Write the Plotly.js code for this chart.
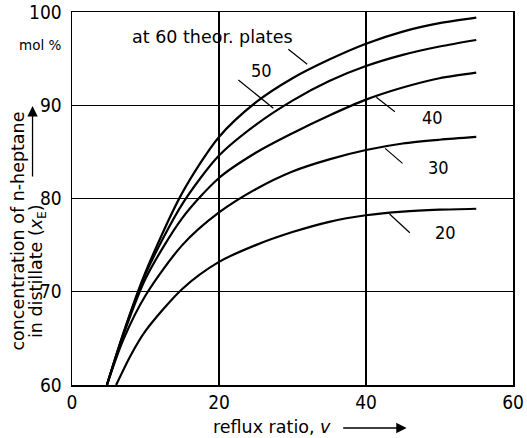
<!DOCTYPE html>
<html>
<head>
<meta charset="utf-8">
<script src="https://cdn.plot.ly/plotly-3.0.1.min.js"></script>
<style>html,body{margin:0;padding:0;background:#fff;}#chart{width:527px;height:438px;}</style>
</head>
<body>
<div id="chart"></div>
<script>
// reflux ratio (x) and n-heptane concentration in distillate (mol %) for each number of theoretical plates
const xPlates = [4.75, 7, 10, 15, 20, 25, 30, 35, 40, 45, 50, 55];
const y60 = [60, 65.6, 72.1, 80.6, 86.6, 90.3, 92.9, 94.9, 96.6, 97.9, 98.8, 99.4];
const y50 = [60, 65.5, 71.9, 79.4, 84.6, 87.9, 90.5, 92.6, 94.2, 95.4, 96.3, 97.0];
const y40 = [60, 65.4, 71.4, 77.9, 82.2, 84.9, 87.0, 88.9, 90.6, 91.9, 92.9, 93.5];
const y30 = [60, 64.9, 69.6, 75.0, 78.5, 81.0, 82.9, 84.2, 85.2, 85.9, 86.3, 86.6];
const x20 = [6.0, 8, 10, 15, 20, 25, 30, 35, 40, 45, 50, 55];
const y20 = [60, 63.2, 65.8, 70.3, 73.2, 75.0, 76.4, 77.5, 78.2, 78.6, 78.8, 78.9];

const xTicks = [0, 20, 40, 60];
const yTicks = [60, 70, 80, 90, 100];

// curve labels: text, label position, leader line (from, to)
const labelText = ['at 60 theor. plates', '50', '40', '30', '20'];
const labelX = [19.06, 25.72, 49.02, 49.9, 50.86];
const labelY = [97.32, 93.78, 88.69, 83.32, 76.35];
const leadX0 = [29.43, 22.64, 43.93, 44.97, 45.96];
const leadY0 = [96.0, 92.71, 89.31, 83.77, 76.33];
const leadX1 = [32.0, 27.4, 41.4, 42.6, 43.2];
const leadY1 = [94.39, 89.67, 90.85, 85.38, 78.34];

const L = 72, R = 513.5, T = 12, B = 385;
const px = x => (x - L) / (R - L);
const py = y => (B - y) / (B - T);

const TXT = 'DejaVu Sans, sans-serif';
const NUM = 'Liberation Sans Narrow, DejaVu Sans Condensed, sans-serif';

const line = {color: '#000', width: 2.2, shape: 'spline', smoothing: 0.8};
const mk = (x, y) => ({x: x, y: y, type: 'scatter', mode: 'lines', line: line, hoverinfo: 'skip', showlegend: false, cliponaxis: true});
const data = [mk(xPlates, y60), mk(xPlates, y50), mk(xPlates, y40), mk(xPlates, y30), mk(x20, y20)];

const annotations = labelText.map((t, i) => ({
  x: labelX[i], y: labelY[i], xref: 'x', yref: 'y', text: t, showarrow: false,
  xanchor: 'center', yanchor: 'middle',
  font: i === 0 ? {family: TXT, size: 17.5, color: '#000'} : {family: NUM, size: 18, color: '#000'}
}));
// unit label
annotations.push({x: px(39.5), y: py(45), xref: 'paper', yref: 'paper', text: 'mol %', showarrow: false,
  xanchor: 'center', yanchor: 'middle', font: {family: TXT, size: 13.5, color: '#000'}});
// y title (two rotated lines)
annotations.push({x: px(17), y: py(231.5), xref: 'paper', yref: 'paper', text: 'concentration of n-heptane',
  textangle: -90, showarrow: false, xanchor: 'center', yanchor: 'middle', font: {family: TXT, size: 17.5, color: '#000'}});
annotations.push({x: px(37), y: py(271), xref: 'paper', yref: 'paper', text: 'in distillate (<i>x</i><sub>E</sub>)',
  textangle: -90, showarrow: false, xanchor: 'center', yanchor: 'middle', font: {family: TXT, size: 17.5, color: '#000'}});
annotations.push({x: px(32.5), y: py(106), xref: 'paper', yref: 'paper', ax: px(32.5), ay: py(178), axref: 'paper', ayref: 'paper',
  text: '', showarrow: true, arrowhead: 2, arrowsize: 1.6, arrowwidth: 1.3, arrowcolor: '#000', standoff: 0});
// x title
annotations.push({x: px(272), y: py(427), xref: 'paper', yref: 'paper', text: 'reflux ratio, <i>v</i>',
  showarrow: false, xanchor: 'center', yanchor: 'middle', font: {family: TXT, size: 17.5, color: '#000'}});
annotations.push({x: px(407), y: py(428), xref: 'paper', yref: 'paper', ax: px(342), ay: py(428), axref: 'paper', ayref: 'paper',
  text: '', showarrow: true, arrowhead: 2, arrowsize: 1.6, arrowwidth: 1.3, arrowcolor: '#000', standoff: 0});

const shapes = labelText.map((t, i) => ({
  type: 'line', xref: 'x', yref: 'y', x0: leadX0[i], y0: leadY0[i], x1: leadX1[i], y1: leadY1[i],
  line: {color: '#000', width: 1.2}
}));

const layout = {
  width: 527, height: 438,
  margin: {l: L, r: 527 - R, t: T, b: 438 - B, pad: 0},
  paper_bgcolor: '#fff', plot_bgcolor: '#fff',
  showlegend: false,
  xaxis: {range: [0, 60], tickvals: xTicks, ticktext: xTicks.map(String), showgrid: true, gridcolor: '#000', gridwidth: 1.2,
    zeroline: false, showline: true, mirror: true, linecolor: '#000', linewidth: 1.5, ticks: '',
    ticklabelstandoff: 0, tickfont: {family: NUM, size: 19, color: '#000'}},
  yaxis: {range: [60, 100], tickvals: yTicks, ticktext: yTicks.map(String), showgrid: true, gridcolor: '#000', gridwidth: 1.2,
    zeroline: false, showline: true, mirror: true, linecolor: '#000', linewidth: 1.5, ticks: '',
    ticklabelstandoff: 5, tickfont: {family: NUM, size: 19, color: '#000'}},
  annotations: annotations,
  shapes: shapes
};

Plotly.newPlot('chart', data, layout, {displayModeBar: false, staticPlot: true});
</script>
</body>
</html>
